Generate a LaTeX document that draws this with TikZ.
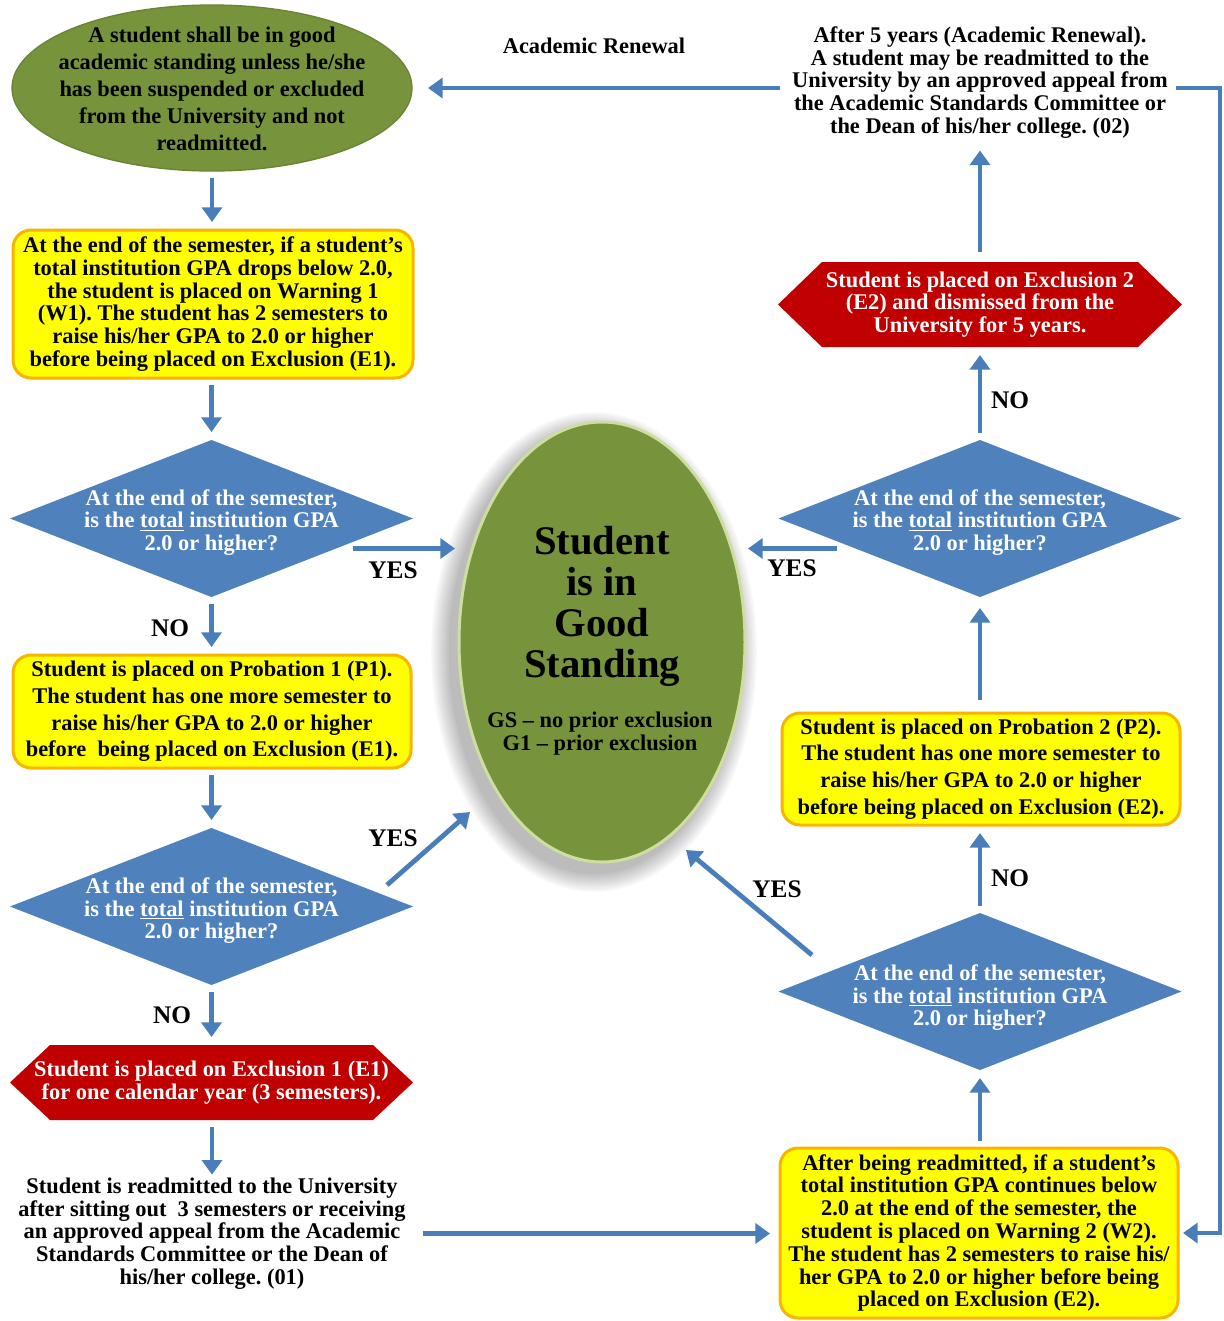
\documentclass[tikz,border=0pt]{standalone}
\usepackage{fontspec}
\setmainfont{Liberation Serif}
\usetikzlibrary{shapes.geometric,arrows.meta,calc,backgrounds}
\newcommand\pxv[1]{#1*0.75pt}
\definecolor{olivegreen}{HTML}{77933C}
\definecolor{olivedark}{HTML}{6A8434}
\definecolor{diablue}{HTML}{4F81BD}
\definecolor{arrblue}{HTML}{4A7EBB}
\definecolor{exred}{HTML}{C00000}
\definecolor{boxyellow}{HTML}{FFFF00}
\definecolor{boxrim}{HTML}{F7B500}
\frenchspacing
\begin{document}
\begin{tikzpicture}[x=0.75pt,y=-0.75pt,
  txt/.style={font=\bfseries\fontsize{16.8pt}{17.1pt}\selectfont, align=center, inner sep=0pt, outer sep=0pt, text=black},
  ybox/.style={txt, rectangle, rounded corners=\pxv{18}, fill=boxyellow, draw=boxrim, line width=\pxv{3}},
  diabox/.style={diamond, fill=diablue, inner sep=0pt, outer sep=0pt, minimum width=\pxv{403}, minimum height=\pxv{157}},
  diatxt/.style={txt, text=white, font=\bfseries\fontsize{16.8pt}{16.9pt}\selectfont},
  hexbox/.style={txt, text=white, rectangle},
  ellshape/.style={ellipse, inner sep=0pt, outer sep=0pt, fill=olivegreen},
  yn/.style={font=\bfseries\fontsize{19pt}{20pt}\selectfont, inner sep=0pt, text=black},
  arr/.style={draw=arrblue, line width=3.6pt, -{Triangle[width=15pt,length=11pt]}, shorten <=\pxv{7}, shorten >=\pxv{8}}
]
\useasboundingbox (0,0) rectangle (1224,1321);

% ---------- left column ----------
\node[ellshape, draw=olivedark, line width=1pt, minimum width=\pxv{400}, minimum height=\pxv{166}] (e0) at (212,88) {};
\node[txt, font=\bfseries\fontsize{16.8pt}{20.25pt}\selectfont] (e0t) at (212,88.5)
  {A student shall be in good\\academic standing unless he/she\\has been suspended or excluded\\from the University and not\\readmitted.};

\node[ybox, minimum width=\pxv{400}, minimum height=\pxv{148}] (w1) at (213,304)
  {At the end of the semester, if a student’s\\total institution GPA drops below 2.0,\\the student is placed on Warning 1\\(W1). The student has 2 semesters to\\raise his/her GPA to 2.0 or higher\\before being placed on Exclusion (E1).};

\node[diabox] (d1) at (211.5,518.5) {};
\node[diatxt] (d1t) at (211.5,522.5) {At the end of the semester,\\is the \underline{total} institution GPA\\2.0 or higher?};

\node[ybox, font=\bfseries\fontsize{16.8pt}{20pt}\selectfont, minimum width=\pxv{398}, minimum height=\pxv{113}] (p1) at (212,711.5)
  {Student is placed on Probation 1 (P1).\\The student has one more semester to\\raise his/her GPA to 2.0 or higher\\before\ \ being placed on Exclusion (E1).};

\node[diabox] (d2) at (211.5,906.5) {};
\node[diatxt] (d2t) at (211.5,911) {At the end of the semester,\\is the \underline{total} institution GPA\\2.0 or higher?};

\node[hexbox, minimum width=\pxv{403}, minimum height=\pxv{75}] (e1) at (211.5,1082.5)
  {Student is placed on Exclusion 1 (E1)\\for one calendar year (3 semesters).};

\node[txt] (t01) at (212,1233.5)
  {Student is readmitted to the University\\after sitting out\ \ 3 semesters or receiving\\an approved appeal from the Academic\\Standards Committee or the Dean of\\his/her college. (01)};

% ---------- centre ----------
\node[ellshape, draw={rgb,255:red,205;green,222;blue,160}, line width=\pxv{3}, minimum width=\pxv{286}, minimum height=\pxv{440}] (gs) at (602,642) {};
\node[txt, font=\bfseries\fontsize{30.5pt}{30.75pt}\selectfont] (gst) at (602,606) {Student\\is in\\Good\\Standing};
\node[txt] (gsn) at (600,733.5) {GS -- no prior exclusion\\G1 -- prior exclusion};

% ---------- right column ----------
\node[txt] (t02) at (980,82.5)
  {After 5 years (Academic Renewal).\\A student may be readmitted to the\\University by an approved appeal from\\the Academic Standards Committee or\\the Dean of his/her college. (02)};

\node[hexbox, minimum width=\pxv{404}, minimum height=\pxv{85}] (e2) at (980,304.5)
  {Student is placed on Exclusion 2\\(E2) and dismissed from the\\University for 5 years.};

\node[diabox] (d3) at (980,518.5) {};
\node[diatxt] (d3t) at (980,522.5) {At the end of the semester,\\is the \underline{total} institution GPA\\2.0 or higher?};

\node[ybox, font=\bfseries\fontsize{16.8pt}{20pt}\selectfont, minimum width=\pxv{398}, minimum height=\pxv{112}] (p2) at (981,769)
  {Student is placed on Probation 2 (P2).\\The student has one more semester to\\raise his/her GPA to 2.0 or higher\\before being placed on Exclusion (E2).};

\node[diabox] (d4) at (980,991.5) {};
\node[diatxt] (d4t) at (980,998) {At the end of the semester,\\is the \underline{total} institution GPA\\2.0 or higher?};

\node[ybox, minimum width=\pxv{398}, minimum height=\pxv{170}] (w2) at (979,1233)
  {After being readmitted, if a student’s\\total institution GPA continues below\\2.0 at the end of the semester, the\\student is placed on Warning 2 (W2).\\The student has 2 semesters to raise his/\\her GPA to 2.0 or higher before being\\placed on Exclusion (E2).};

% ---------- labels ----------
\node[txt] (renew) at (594,46) {Academic Renewal};
\node[yn] (yes1) at (393,570) {YES};
\node[yn] (no1) at (170,628) {NO};
\node[yn] (yes2) at (393,838) {YES};
\node[yn] (no2) at (172,1015) {NO};
\node[yn] (yes3) at (792,568) {YES};
\node[yn] (no3) at (1010,400) {NO};
\node[yn] (yes4) at (777,889) {YES};
\node[yn] (no4) at (1010,878) {NO};

% ---------- connectors ----------
\coordinate (y1s) at ($(d1.east)+(-60,30)$);
\coordinate (y3s) at ($(d3.west)+(58,30)$);
\coordinate (y2s) at (387,885);
\coordinate (y2e) at (470,812);
\coordinate (y4s) at (812,955);
\coordinate (y4e) at (686,850);
\coordinate (rc) at (1220,88);

\draw[arr] (e0.south) -- (w1.north -| e0.south);
\draw[arr] (w1.south -| d1.north) -- (d1.north);
\draw[arr, shorten <=0pt, shorten >=\pxv{4}] (y1s) -- (y1s -| gs.west);
\draw[arr] (d1.south) -- (p1.north -| d1.south);
\draw[arr] (p1.south -| d2.north) -- (d2.north);
\draw[arr, shorten <=0pt, shorten >=0pt] (y2s) -- (y2e);
\draw[arr] (d2.south) -- (e1.north -| d2.south);
\draw[arr, shorten >=\pxv{3}] (e1.south -| t01.north) -- (t01.north);
\draw[arr, shorten <=\pxv{17}, shorten >=\pxv{10}] (t01.east) -- (t01.east -| w2.west);
\draw[arr] (w2.north -| d4.south) -- (d4.south);
\draw[arr, shorten <=0pt, shorten >=0pt] (y4s) -- (y4e);
\draw[arr] (d4.north) -- (p2.south -| d4.north);
\draw[arr, shorten <=\pxv{13}, shorten >=\pxv{11}] (p2.north -| d3.south) -- (d3.south);
\draw[arr, shorten <=0pt, shorten >=\pxv{3}] (y3s) -- (y3s -| gs.east);
\draw[arr] (d3.north) -- (e2.south -| d3.north);
\draw[arr, shorten <=\pxv{10}, shorten >=\pxv{12}] (e2.north) -- (t02.south -| e2.north);
\draw[arr, shorten <=\pxv{12}, shorten >=\pxv{16}] (e0.east -| t02.west) -- (e0.east);
\draw[arr, shorten <=\pxv{8}, shorten >=\pxv{5}] (e0.east -| t02.east) -- (rc) |- (w2.east);

% ---------- background layer ----------
\begin{scope}[on background layer]
  \fill[white] (0,0) rectangle (1224,1321);
  \foreach \i in {1,...,9}
    \fill[black, opacity=0.03] (594,652) ellipse ({143+\i*2.2} and {220+\i*2.2});
  \fill[exred] (e1.west) -- ($(e1.north west)+(40,0)$) -- ($(e1.north east)+(-40,0)$) -- (e1.east)
     -- ($(e1.south east)+(-40,0)$) -- ($(e1.south west)+(40,0)$) -- cycle;
  \fill[exred] (e2.west) -- ($(e2.north west)+(44,0)$) -- ($(e2.north east)+(-44,0)$) -- (e2.east)
     -- ($(e2.south east)+(-44,0)$) -- ($(e2.south west)+(44,0)$) -- cycle;
\end{scope}
\end{tikzpicture}
\end{document}
